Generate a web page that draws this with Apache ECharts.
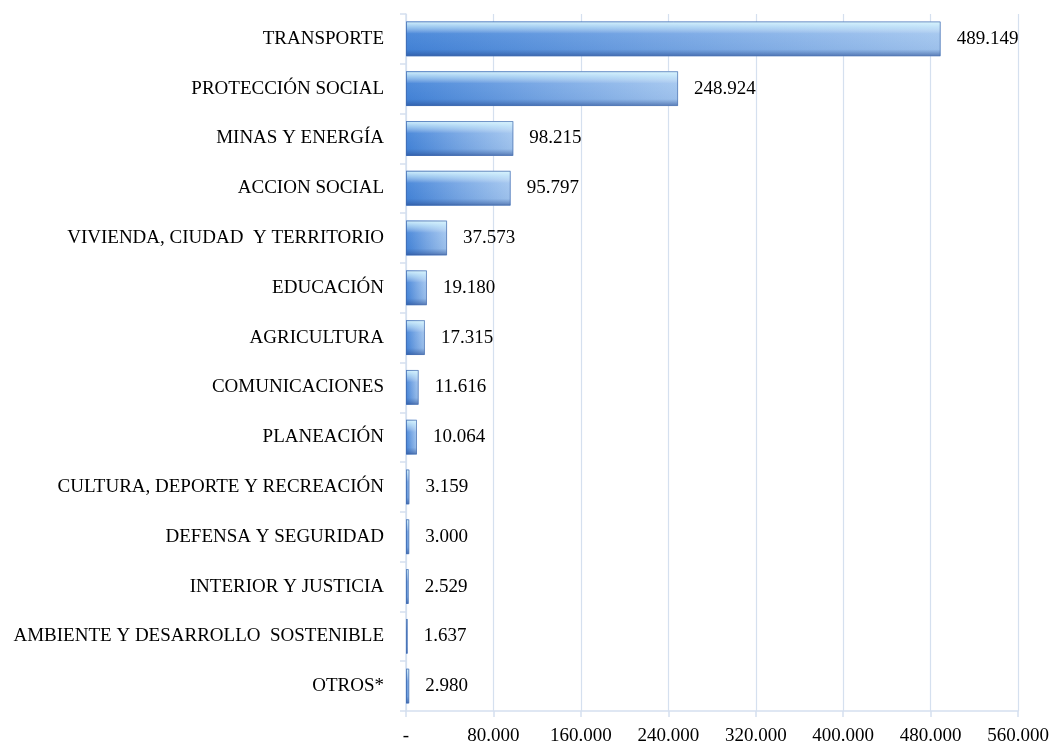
<!DOCTYPE html>
<html>
<head>
<meta charset="utf-8">
<script src="https://cdn.jsdelivr.net/npm/echarts@6/dist/echarts.min.js"></script>
<style>
  html, body { margin: 0; padding: 0; background: #fff; }
  #chart { width: 1052px; height: 753px; }
</style>
</head>
<body>
<div id="chart"></div>
<script>
var categories = ['TRANSPORTE', 'PROTECCIÓN SOCIAL', 'MINAS Y ENERGÍA', 'ACCION SOCIAL',
    'VIVIENDA, CIUDAD  Y TERRITORIO', 'EDUCACIÓN', 'AGRICULTURA', 'COMUNICACIONES',
    'PLANEACIÓN', 'CULTURA, DEPORTE Y RECREACIÓN', 'DEFENSA Y SEGURIDAD',
    'INTERIOR Y JUSTICIA', 'AMBIENTE Y DESARROLLO  SOSTENIBLE', 'OTROS*'];
var values = [489149, 248924, 98215, 95797, 37573, 19180, 17315, 11616, 10064, 3159, 3000, 2529, 1637, 2980];
var axisMin = 0;
var axisMax = 560000;
var axisStep = 80000;

// miles con punto, como en el original
function fmt(v) {
    if (v === 0) return '-';
    return String(Math.round(v)).replace(/\B(?=(\d{3})+(?!\d))/g, '.');
}

var font = '"Liberation Serif", "DejaVu Serif", serif';
var lineColor = '#d5e0ef';

var option = {
    animation: false,
    grid: { left: 406, right: 33, top: 14, bottom: 42, containLabel: false },
    xAxis: {
        type: 'value',
        min: axisMin,
        max: axisMax,
        interval: axisStep,
        axisLine: { show: true, lineStyle: { color: lineColor, width: 1.5 } },
        axisTick: { show: true, length: 6, lineStyle: { color: lineColor, width: 1.5 } },
        splitLine: { show: true, lineStyle: { color: lineColor, width: 1.2 } },
        axisLabel: {
            margin: 16,
            fontFamily: font,
            fontSize: 19,
            color: '#000',
            formatter: fmt
        }
    },
    yAxis: {
        type: 'category',
        inverse: true,
        data: categories,
        axisLine: { show: true, lineStyle: { color: lineColor, width: 1.5 } },
        axisTick: { show: true, length: 6, lineStyle: { color: lineColor, width: 1.5 } },
        axisLabel: {
            margin: 22,
            fontFamily: font,
            fontSize: 19,
            color: '#000'
        }
    },
    series: [
        {
            type: 'bar',
            data: values,
            barCategoryGap: '30%',
            itemStyle: {
                color: new echarts.graphic.LinearGradient(0, 0, 1, 0, [
                    { offset: 0, color: '#4484d8' },
                    { offset: 0.5, color: '#76a6e4' },
                    { offset: 1, color: '#a3c6ef' }
                ])
            }
        },
        {
            type: 'bar',
            data: values,
            barGap: '-100%',
            barCategoryGap: '30%',
            z: 3,
            itemStyle: {
                borderColor: 'rgba(60,95,160,0.55)',
                borderWidth: 1,
                color: new echarts.graphic.LinearGradient(0, 0, 0, 1, [
                    { offset: 0, color: 'rgba(220,248,255,0.95)' },
                    { offset: 0.18, color: 'rgba(215,245,255,0.55)' },
                    { offset: 0.35, color: 'rgba(255,255,255,0.05)' },
                    { offset: 0.8, color: 'rgba(40,80,150,0.05)' },
                    { offset: 1, color: 'rgba(35,70,140,0.6)' }
                ])
            },
            label: {
                show: true,
                position: 'right',
                distance: 16,
                fontFamily: font,
                fontSize: 19,
                color: '#000',
                formatter: function (p) { return fmt(p.value); }
            }
        }
    ]
};

var myChart = echarts.init(document.getElementById('chart'));
myChart.setOption(option);
</script>
</body>
</html>
